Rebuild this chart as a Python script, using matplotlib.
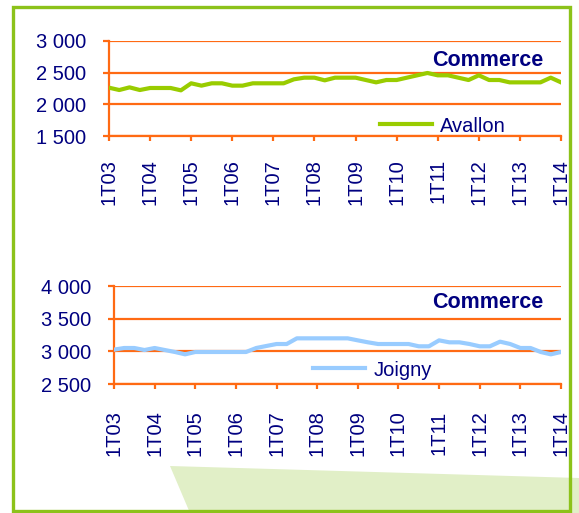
import matplotlib
matplotlib.use("Agg")
from matplotlib import pyplot as plt
from matplotlib.patches import Rectangle, Polygon

plt.rcParams['font.family'] = ['Liberation Sans', 'DejaVu Sans']

# Quarterly data 1T03 .. 1T14 (45 quarters)
avallon = [2263, 2226, 2268, 2226, 2258, 2258, 2258, 2221, 2332, 2295,
           2332, 2332, 2295, 2295, 2332, 2332, 2332, 2332, 2395, 2421,
           2421, 2379, 2421, 2421, 2421, 2384, 2347, 2384, 2384, 2421,
           2458, 2495, 2458, 2458, 2421, 2384, 2458, 2384, 2384, 2347,
           2347, 2347, 2347, 2421, 2347]
joigny = [3026, 3051, 3051, 3020, 3051, 3020, 2990, 2954, 2990, 2990,
          2990, 2990, 2990, 2990, 3051, 3082, 3112, 3112, 3199, 3199,
          3199, 3199, 3199, 3199, 3168, 3138, 3112, 3112, 3112, 3112,
          3077, 3077, 3168, 3138, 3138, 3112, 3077, 3077, 3148, 3112,
          3051, 3051, 2990, 2954, 2990]
year_labels = ["1T03", "1T04", "1T05", "1T06", "1T07", "1T08",
               "1T09", "1T10", "1T11", "1T12", "1T13", "1T14"]
avallon_ticks = [1500, 2000, 2500, 3000]
joigny_ticks = [2500, 3000, 3500, 4000]

W, H = 579, 513
orange = '#FF6A13'
navy = '#000080'

fig = plt.figure(figsize=(W / 100, H / 100), dpi=100)


def px_axes(left, top, right, bottom):
    return fig.add_axes([left / W, 1 - bottom / H, (right - left) / W, (bottom - top) / H])


# light green decoration and outer frame
fig.patches.append(Polygon([(170 / W, 1 - 466 / H), (1, 1 - 478 / H), (1, 0), (190 / W, 0)],
                           closed=True, transform=fig.transFigure, facecolor='#E1EFC7',
                           edgecolor='none', zorder=0))
fig.patches.append(Rectangle((12.5 / W, 1 - 511 / H), 557.5 / W, 504 / H,
                             transform=fig.transFigure, fill=False,
                             edgecolor='#8CC21A', linewidth=2.4, zorder=1))


def thousands(v):
    return "{:,}".format(v).replace(",", " ")


def draw(ax, values, color, name, ticks, xpad, title_y, leg_x, leg_y):
    xs = list(range(len(values)))
    ax.set_facecolor('none')
    ax.plot(xs, values, color=color, linewidth=3, label=name, zorder=3)
    ax.set_xlim(0, len(values) - 1)
    ax.set_ylim(ticks[0], ticks[-1])
    ax.set_yticks(ticks)
    ax.set_yticklabels([thousands(t) for t in ticks])
    ax.set_xticks(xs[::4])
    ax.set_xticklabels(year_labels, rotation=90, va='top')
    ax.grid(axis='y', color=orange, linewidth=1.6)
    for side in ['top', 'right']:
        ax.spines[side].set_visible(False)
    for side in ['left', 'bottom']:
        ax.spines[side].set_color(orange)
        ax.spines[side].set_linewidth(1.6)
    ax.tick_params(axis='y', colors=orange, labelcolor=navy, labelsize=14.5,
                   length=4.3, width=1.6, pad=12)
    ax.tick_params(axis='x', colors=orange, labelcolor=navy, labelsize=14.5,
                   length=3.6, width=1.6, pad=xpad)
    ax.text(0.96, title_y, "Commerce", transform=ax.transAxes, ha='right', va='center',
            fontsize=15.5, fontweight='bold', color=navy)
    ax.legend(loc='center left', bbox_to_anchor=(leg_x / W, 1 - leg_y / H),
              bbox_transform=fig.transFigure, frameon=False, borderpad=0,
              borderaxespad=0, handlelength=2.6, handletextpad=0.4,
              labelcolor=navy, fontsize=14.5)


ax1 = px_axes(109, 41, 561, 136)
draw(ax1, avallon, '#99CC00', "Avallon", avallon_ticks, 13, 0.79, 380, 126)

ax2 = px_axes(114, 286, 561, 384)
draw(ax2, joigny, '#99CCFF', "Joigny", joigny_ticks, 15.5, 0.83, 313, 370)

fig.savefig("out.png", dpi=100)
